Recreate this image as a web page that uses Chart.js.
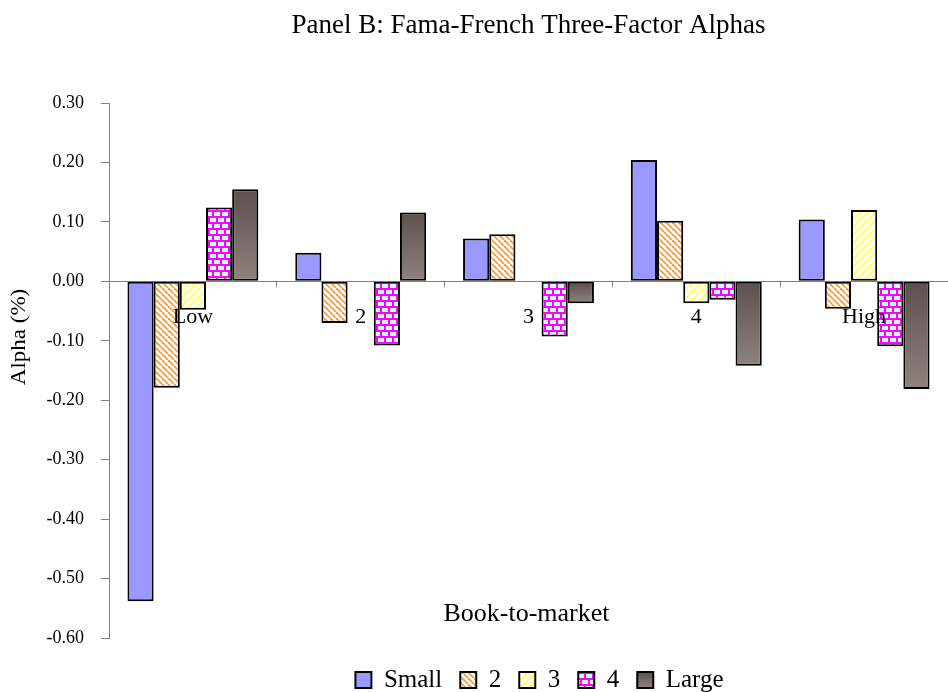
<!DOCTYPE html>
<html><head><meta charset="utf-8">
<script src="https://cdn.jsdelivr.net/npm/chart.js@4.4.0/dist/chart.umd.min.js"></script>
<style>html,body{margin:0;padding:0;background:#fff}canvas{display:block}</style>
</head><body>
<canvas id="c" width="948" height="692"></canvas>
<script>
// ---- data ----
const categories = ['Low', '2', '3', '4', 'High'];
const seriesNames = ['Small', '2', '3', '4', 'Large'];
const small = [-0.538, 0.048, 0.072, 0.204, 0.104];
const size2 = [-0.179, -0.070, 0.079, 0.102, -0.046];
const size3 = [-0.048, 0.000, 0.000, -0.037, 0.120];
const size4 = [0.124, -0.108, -0.093, -0.031, -0.109];
const large = [0.155, 0.116, -0.037, -0.142, -0.181];
const yMin = -0.6, yMax = 0.3, yStep = 0.1;
const titleText = 'Panel B: Fama-French Three-Factor Alphas';
const xTitle = 'Book-to-market';
const yTitle = 'Alpha (%)';

const FONT = '"Liberation Serif", "Times New Roman", serif';
const DARK = '#5c504e', LIGHT = '#8f837e';

// ---- fill patterns ----
function makeTile(w, h, draw) {
  const c = document.createElement('canvas');
  c.width = w; c.height = h;
  const g = c.getContext('2d');
  draw(g, w, h);
  return c;
}
const ctx0 = document.getElementById('c').getContext('2d');
const orangeTile = makeTile(6, 6, (g, w, h) => {
  g.fillStyle = '#ffffff'; g.fillRect(0, 0, w, h);
  g.strokeStyle = '#ff9933'; g.lineWidth = 1.8;
  for (let k = -1; k <= 1; k++) { g.beginPath(); g.moveTo(k * w, 0); g.lineTo(k * w + w, h); g.stroke(); }
});
const yellowTile = makeTile(8, 8, (g, w, h) => {
  g.fillStyle = '#ffffff'; g.fillRect(0, 0, w, h);
  g.strokeStyle = '#ffff80'; g.lineWidth = 3.2;
  for (let k = -1; k <= 1; k++) { g.beginPath(); g.moveTo(k * w, h); g.lineTo(k * w + w, 0); g.stroke(); }
});
const brickTile = makeTile(16, 12, (g, w, h) => {
  g.fillStyle = '#ccffff'; g.fillRect(0, 0, w, h);
  g.fillStyle = '#ff00ff';
  g.fillRect(0, 0, w, 2); g.fillRect(0, 6, w, 2);
  g.fillRect(0, 0, 2, 6); g.fillRect(8, 0, 2, 6);
  g.fillRect(4, 6, 2, 6); g.fillRect(12, 6, 2, 6);
});
const orangePat = ctx0.createPattern(orangeTile, 'repeat');
const yellowPat = ctx0.createPattern(yellowTile, 'repeat');
const brickPat = ctx0.createPattern(brickTile, 'repeat');

function largeFill(c) {
  if (c.type !== 'data') return '#6f6461';
  const ys = c.chart.scales.y;
  if (!ys || !c.chart.chartArea) return '#6f6461';
  const v = c.raw;
  const t = ys.getPixelForValue(Math.max(v, 0));
  const b = ys.getPixelForValue(Math.min(v, 0));
  if (!isFinite(t) || !isFinite(b) || b - t < 1) return '#6f6461';
  const g = c.chart.ctx.createLinearGradient(0, t, 0, b);
  g.addColorStop(0, DARK);
  g.addColorStop(1, LIGHT);
  return g;
}

const textPlugin = {
  id: 'texts',
  afterLayout(chart) {
    // nudge the legend block to sit where the original does
    const lg = chart.legend;
    if (lg) { lg.left += 11; lg.right += 11; }
  },
  afterDraw(chart) {
    const { ctx, chartArea: a } = chart;
    const cx = (a.left + a.right) / 2;
    ctx.save();
    ctx.fillStyle = '#000';
    ctx.textAlign = 'center';
    ctx.textBaseline = 'alphabetic';
    ctx.font = '27px ' + FONT;
    ctx.fillText(titleText, cx, 33);
    ctx.font = '26px ' + FONT;
    ctx.fillText(xTitle, cx - 2, 621);
    ctx.translate(20, 337);
    ctx.rotate(-Math.PI / 2);
    ctx.scale(1.15, 1);
    ctx.textBaseline = 'middle';
    ctx.font = '20px ' + FONT;
    ctx.fillText(yTitle, 0, 0);
    ctx.restore();
  }
};

const common = { borderColor: '#000000', borderWidth: 2, borderSkipped: false };

new Chart(document.getElementById('c'), {
  type: 'bar',
  data: {
    labels: categories,
    datasets: [
      { label: seriesNames[0], data: small, backgroundColor: '#9999ff', ...common },
      { label: seriesNames[1], data: size2, backgroundColor: orangePat, ...common },
      { label: seriesNames[2], data: size3, backgroundColor: yellowPat, ...common },
      { label: seriesNames[3], data: size4, backgroundColor: brickPat, ...common },
      { label: seriesNames[4], data: large, backgroundColor: largeFill, ...common }
    ]
  },
  options: {
    responsive: false,
    animation: false,
    devicePixelRatio: 1,
    layout: { padding: { top: 103, left: 0, right: 0, bottom: -10.5 } },
    datasets: { bar: { categoryPercentage: 0.78, barPercentage: 1.0 } },
    plugins: {
      title: { display: false },
      tooltip: { enabled: false },
      legend: {
        display: true,
        position: 'bottom',
        fullSize: false,
        align: 'center',
        title: { display: true, text: '', padding: { top: 10.3, bottom: 0 }, font: { size: 1 } },
        labels: {
          boxWidth: 16, boxHeight: 16, padding: 18,
          color: '#000', font: { family: FONT, size: 25 },
          generateLabels(chart) {
            const items = Chart.defaults.plugins.legend.labels.generateLabels(chart);
            const lg = chart.legend;
            if (lg && isFinite(lg.top)) {
              const lo = lg.options.labels;
              const fs = lo.font.size;
              const itemH = Math.max(fs, lo.boxHeight);
              const top = lg.top + lo.padding + lg._computeTitleHeight() + (itemH - lo.boxHeight) / 2;
              const g = chart.ctx.createLinearGradient(0, top, 0, top + lo.boxHeight);
              g.addColorStop(0, DARK);
              g.addColorStop(1, LIGHT);
              items[4].fillStyle = g;
            }
            return items;
          }
        }
      }
    },
    scales: {
      x: {
        position: { y: 0 },
        offset: true,
        grid: { drawOnChartArea: false, drawTicks: true, tickLength: 5, color: '#808080' },
        border: { display: true, color: '#808080', width: 1 },
        ticks: { z: 1, color: '#000', font: { family: FONT, size: 22 }, padding: 18, maxRotation: 0, autoSkip: false }
      },
      y: {
        min: yMin, max: yMax,
        afterFit(s) { s.width = 109; },
        grid: { drawOnChartArea: false, drawTicks: true, tickLength: 8, color: '#808080' },
        border: { display: true, color: '#808080', width: 1 },
        ticks: {
          stepSize: yStep, color: '#000', padding: 17,
          font: { family: FONT, size: 18 },
          callback: (v) => Number(v).toFixed(2)
        },
        title: { display: false }
      }
    }
  },
  plugins: [textPlugin]
});
</script>
</body></html>
